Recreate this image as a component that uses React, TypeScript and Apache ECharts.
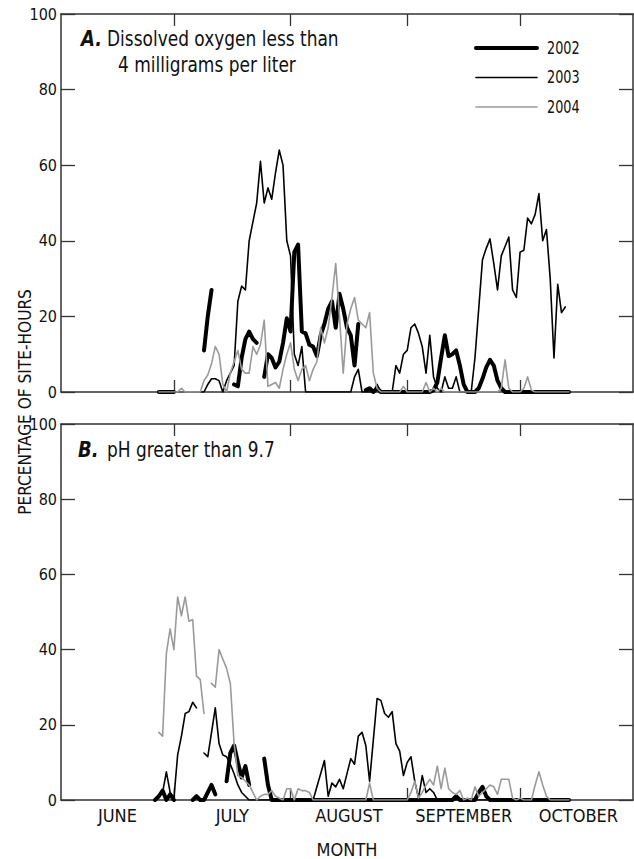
import React, { useEffect, useRef } from "react";
import * as echarts from "echarts";

const FONT = "'DejaVu Sans Condensed', 'DejaVu Sans', sans-serif";

const SERIES_NAMES = ["2002", "2003", "2004"];
const MONTH_LABELS = ["JUNE", "JULY", "AUGUST", "SEPTEMBER", "OCTOBER"];
const MONTH_MIDS = [15, 45.5, 76.5, 107, 137.5]; // day index (June 1 = 0)
const MONTH_BOUNDS = [30, 61, 92, 122];
const DAY_MAX = 152;
const Y_MAX = 100;
const Y_STEP = 20;

// Panel A: dissolved oxygen < 4 mg/L (percentage of site-hours), daily values
const doStart2002 = 26;
const do2002 = [
  0, 0, 0, 0, 0,
  null, null, null, null, null, null, null,
  11, 20, 27,
  null, null, null, null, null,
  2, 1.5, 9, 14, 16, 14, 13,
  null,
  4, 10, 9, 6.5, 8, 13, 19.5, 16, 37, 39,
  16, 15.5, 12.5, 12, 9.5, 15, 18, 22, 24, 17,
  26, 22, 17, 15, 7, 18,
  null,
  0.5, 1, 0, 1, 0, 0, 0, 0, 0, 0,
  0, 0, 0, 0, 0, 0, 0, 0, 0.5, 2.5,
  9, 15, 9.5, 10, 11, 7, 2, 0, 0, 0,
  1, 3.5, 6.5, 8.5, 7, 3, 1, 0, 0, 0,
  0, 0, 0, 0, 0, 0, 0, 0, 0, 0,
  0, 0, 0, 0, 0,
];
const doStart2003 = 37;
const do2003 = [
  0, 0, 2, 3.5, 3.5, 3, 0, 3, 5, 7,
  24, 28, 27, 40, 45, 50, 61, 50, 54, 51,
  58, 64, 60, 40, 36, 10, 7, 12, 0, 0,
  0, 0, 0, 0, 0, 0, 0, 0, 0, 0,
  0, 4, 6, 0, 0, 0, 0, 2, 0, 0,
  0, 0, 7, 5, 10, 11, 17, 18, 15.5, 12,
  5, 15, 4, 1, 0, 4, 1, 1, 4, 0,
  0, 0, 0, 9, 22, 35, 38, 40.5, 34, 27,
  36, 38.5, 41, 27, 25, 37, 37.5, 46, 44.5, 47,
  52.5, 40, 43, 30, 9, 28.5, 21, 22.5,
];
const doStart2004 = 26;
const do2004 = [
  0, 0, 0, 0, 0, 0, 1, 0, 0, 0,
  0, 0, 3, 4.5, 7.5, 12, 10, 2, 0, 5,
  8, 11, 6, 5, 5, 12, 10, 12.5, 19, 1.5,
  2, 2.5, 1, 6, 10, 13, 6, 3, 6, 7,
  3, 6, 8, 17, 13, 17, 25, 34, 20, 5,
  18, 22, 25, 19, 18, 17, 21, 5, 1, 0,
  0, 0, 0, 0, 0, 1.5, 0, 0, 0, 0,
  0, 2.5, 0, 1, 0, 1, 0, 0, 0, 0,
  0, 0, 0, 0, 0, 0, 0, 0, 0, 0,
  0, 1, 8.5, 1, 0, 0, 0, 1, 4, 0.5,
  0, 0, 0, 0, 0, 0, 0, 0, 0, 0,
];

// Panel B: pH greater than 9.7
const phStart2002 = 25;
const ph2002 = [
  0, 1, 2.5, 0, 1.5, 0,
  null, null, null, null,
  0, 1, 0, 0, 2, 4, 1.5,
  null, null,
  5, 12.5, 14.5, 10, 6, 9, 4,
  null, null, null,
  11, 4, 0, 0, 0, 0, 0, 0, 0, 0,
  0, 0, 0, 0, 0, 0, 0, 0, 0, 0,
  0, 0, 0, 0, 0, 0, 0, 0, 0, 0,
  0, 0, 0, 0, 0, 0, 0, 0, 0, 0,
  0, 0, 0, 0, 0, 0, 0, 0, 0, 0,
  0, 1, 0, 0, 0, 0, 0, 2, 3.5, 1,
  0, 0, 0, 0, 0, 0, 0, 0, 0, 0,
  0, 0, 0, 0, 0, 0, 0, 0, 0, 0,
  0, 0,
];
const phStart2003 = 25;
const ph2003 = [
  0, 1, 2, 7.5, 2, 0.5, 12, 17, 23, 23.5,
  26, 24.5, null, 12.5, 11.5, 18, 24.5, 15, 12, 11.5,
  9.5, 7, 4, 2, 1, 0, 0, 0, 0, 0,
  0, 0, 0, 0, 0, 0, 0, 0, 0, 0,
  0, 0, 0, 3.5, 7, 10.5, 1, 4.5, 3.5, 5.5,
  3, 7, 11, 9.5, 17, 18, 14.5, 5, 16, 27,
  26.5, 23, 22, 23.5, 15, 13, 6.5, 10, 11.5, 5,
  0.5, 6.5, 2, 3, 2, 0, 0, 0, 0, 0,
  0, 0, 0, 0, 0, 0, 0, 0, 0, 0,
  0, 0, 0, 0, 0, 0, 0, 0, 0, 0,
  0, 0, 0, 0, 0, 0, 0, 0, 0, 0,
  0,
];
const phStart2004 = 26;
const ph2004 = [
  18, 17, 39, 45.5, 40, 54, 49, 54, 47.5, 48,
  33, 32, 23, null, 31, 30, 40, 37.5, 35, 31,
  15, 6.5, 6, 5, 4, 2, 0, 1, 1.5, 1.5,
  2.5, 1, 0.5, 0, 3, 3, 0, 3, 2.5, 2.5,
  2, 0, 0, 0, 0, 0, 0, 0, 0, 0,
  0, 0, 0, 0, 0, 0, 4.5, 0, 0, 0,
  0, 0, 0, 0, 0, 0, 0, 2, 5, 0.5,
  2, 4, 5.5, 4, 9, 3, 8.5, 3, 2, 1.5,
  2.5, 0, 0.5, 0, 3.5, 1, 2, 3, 4, 3.5,
  1.5, 5.5, 5.5, 5.5, 0.5, 0, 0.5, 0, 0, 0,
  4, 7.5, 4, 1, 0, 0, 0, 0, 0, 0,
];

const toPairs = (start: number, vals: (number | null)[]) =>
  vals.map((v, i) => [start + i, v === null ? "-" : v]);

const STYLE: Record<string, { color: string; width: number; z: number }> = {
  "2002": { color: "#000000", width: 4, z: 2 },
  "2003": { color: "#000000", width: 1.6, z: 3 },
  "2004": { color: "#9a9a9a", width: 1.6, z: 4 },
};

const AXIS_COLOR = "#333333";
const TEXT_COLOR = "#111111";

export default function App() {
  const ref = useRef<HTMLDivElement>(null);
  useEffect(() => {
    if (!ref.current) return;
    const chart = echarts.init(ref.current, undefined, { renderer: "svg" });

    const xAxisFor = (gridIndex: number, position: "top" | "bottom", labels: boolean) => ({
      type: "value",
      gridIndex,
      position,
      min: 0,
      max: DAY_MAX,
      axisLine: { show: true, onZero: false, lineStyle: { color: AXIS_COLOR, width: 1.5 } },
      axisTick: {
        show: true,
        inside: true,
        length: 12,
        customValues: MONTH_BOUNDS,
        lineStyle: { color: AXIS_COLOR, width: 1.3 },
      },
      axisLabel: labels
        ? {
            show: true,
            customValues: MONTH_MIDS,
            formatter: (v: number) => MONTH_LABELS[MONTH_MIDS.indexOf(v)] ?? "",
            fontFamily: FONT,
            fontSize: 18,
            color: TEXT_COLOR,
            margin: 6,
          }
        : { show: false },
      splitLine: { show: false },
      ...(labels
        ? {
            name: "MONTH",
            nameLocation: "middle",
            nameGap: 40,
            nameTextStyle: { fontFamily: FONT, fontSize: 18, color: TEXT_COLOR },
          }
        : {}),
    });

    const yAxisFor = (gridIndex: number, position: "left" | "right", labels: boolean) => ({
      type: "value",
      gridIndex,
      position,
      min: 0,
      max: Y_MAX,
      interval: Y_STEP,
      axisLine: { show: true, onZero: false, lineStyle: { color: AXIS_COLOR, width: 1.5 } },
      axisTick: { show: true, inside: true, length: 14, lineStyle: { color: AXIS_COLOR, width: 1.3 } },
      axisLabel: labels
        ? { show: true, fontFamily: FONT, fontSize: 16, color: TEXT_COLOR, margin: 4 }
        : { show: false },
      splitLine: { show: false },
    });

    const mk = (name: string, axis: number, start: number, vals: (number | null)[]) => ({
      name,
      type: "line",
      xAxisIndex: axis * 2,
      yAxisIndex: axis * 2,
      data: toPairs(start, vals),
      showSymbol: false,
      symbol: "none",
      connectNulls: false,
      z: STYLE[name].z,
      lineStyle: { color: STYLE[name].color, width: STYLE[name].width, join: "round", cap: "round" },
      itemStyle: { color: STYLE[name].color },
      emphasis: { disabled: true },
    });

    const txt = (
      text: string,
      x: number,
      y: number,
      size: number,
      sx: number,
      extra: Record<string, unknown> = {}
    ) => ({
      type: "text",
      x,
      y,
      scaleX: sx,
      silent: true,
      style: {
        text,
        fontFamily: FONT,
        fontSize: size,
        fill: TEXT_COLOR,
        align: "left",
        verticalAlign: "middle",
        ...extra,
      },
    });

    const legendRows = SERIES_NAMES.map((name, i) => {
      const y = 48 + i * 29.5;
      return [
        {
          type: "line",
          silent: true,
          shape: { x1: 476, y1: y, x2: 537, y2: y },
          style: { stroke: STYLE[name].color, lineWidth: STYLE[name].width, lineCap: "round" },
        },
        txt(name, 547, y, 17, 0.84),
      ];
    }).flat();

    chart.setOption({
      animation: false,
      backgroundColor: "#ffffff",
      textStyle: { fontFamily: FONT },
      grid: [
        { left: 61, top: 14, width: 572, height: 378 },
        { left: 61, top: 424, width: 572, height: 377 },
      ],
      xAxis: [
        xAxisFor(0, "bottom", false),
        xAxisFor(0, "top", false),
        xAxisFor(1, "bottom", true),
        xAxisFor(1, "top", false),
      ],
      yAxis: [
        yAxisFor(0, "left", true),
        yAxisFor(0, "right", false),
        yAxisFor(1, "left", true),
        yAxisFor(1, "right", false),
      ],
      graphic: [
        txt("A.", 81, 39, 21, 0.95, { fontWeight: "bold", fontStyle: "italic" }),
        txt("Dissolved oxygen less than", 107, 39, 21, 0.9),
        txt("4 milligrams per liter", 118, 65, 21, 0.9),
        txt("B.", 78, 450, 21, 0.95, { fontWeight: "bold", fontStyle: "italic" }),
        txt("pH greater than 9.7", 107, 450, 21, 0.9),
        ...legendRows,
        {
          type: "text",
          x: 25,
          y: 402,
          rotation: Math.PI / 2,
          scaleX: 0.95,
          silent: true,
          style: {
            text: "PERCENTAGE OF SITE-HOURS",
            fontFamily: FONT,
            fontSize: 18,
            fill: TEXT_COLOR,
            align: "center",
            verticalAlign: "middle",
          },
        },
      ],
      series: [
        mk("2002", 0, doStart2002, do2002),
        mk("2003", 0, doStart2003, do2003),
        mk("2004", 0, doStart2004, do2004),
        mk("2002", 1, phStart2002, ph2002),
        mk("2003", 1, phStart2003, ph2003),
        mk("2004", 1, phStart2004, ph2004),
      ],
    });
    return () => chart.dispose();
  }, []);
  return (
    <div
      ref={ref}
      style={{ position: "absolute", left: 0, top: 0, width: 634, height: 859, background: "#fff" }}
    />
  );
}
